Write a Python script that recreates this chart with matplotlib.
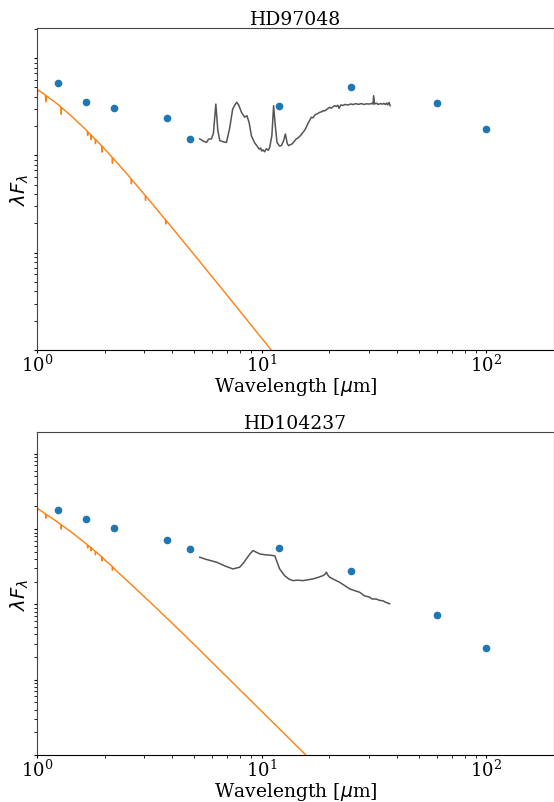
import numpy as np
import matplotlib
matplotlib.use("Agg")
import matplotlib.pyplot as plt

plt.rcParams["font.family"] = "serif"
plt.rcParams["font.serif"] = ["DejaVu Serif"]
plt.rcParams["mathtext.fontset"] = "dejavusans"

# photometry wavelengths (micron)
phot_wave = [1.235, 1.65, 2.2, 3.78, 4.8, 12.0, 25.0, 60.0, 100.0]

# HD97048 (arbitrary flux units)
hd97048_phot = [0.555, 0.354, 0.307, 0.244, 0.148, 0.324, 0.505, 0.346, 0.187]
hd97048_model_wave = [1.0, 1.004, 1.008, 1.06, 1.089, 1.094, 1.099, 1.122, 1.20, 1.259, 1.277, 1.282, 1.287,
                      1.413, 1.585, 1.672, 1.68, 1.688, 1.733, 1.74, 1.747, 1.778, 1.813, 1.82, 1.827,
                      1.938, 1.945, 1.952, 1.995, 2.158, 2.166, 2.174, 2.239, 2.512, 2.62, 2.63, 2.64,
                      2.818, 3.03, 3.04, 3.05, 3.162, 3.73, 3.74, 3.75, 3.981, 5.012, 6.31, 7.943,
                      10.0, 12.59, 19.95]
hd97048_model = [0.481, 0.42, 0.474, 0.436, 0.417, 0.355, 0.410, 0.396, 0.354, 0.324, 0.315, 0.265, 0.310,
                 0.257, 0.201, 0.178, 0.160, 0.174, 0.163, 0.146, 0.161, 0.154, 0.1475, 0.132, 0.145,
                 0.1256, 0.108, 0.1243, 0.117, 0.0959, 0.083, 0.0945, 0.0875, 0.0646, 0.0578, 0.051, 0.0565,
                 0.0473, 0.0388, 0.0345, 0.0382, 0.0345, 0.0218, 0.0197, 0.0215, 0.0182, 0.00951, 0.00494,
                 0.00256, 0.00132, 0.000684, 0.000182]
hd97048_irs_wave = [5.30, 5.50, 5.68, 5.80, 5.98, 6.10, 6.25, 6.38, 6.51, 6.75, 6.97, 7.20, 7.43, 7.60,
                    7.74, 7.90, 8.13, 8.40, 8.60, 8.80, 9.00, 9.30, 9.60, 9.75, 9.90, 10.0, 10.14, 10.3,
                    10.5, 10.7, 10.86, 11.10, 11.30, 11.50, 11.70, 12.0, 12.23, 12.50, 12.75, 13.0, 13.18,
                    13.7, 14.26, 14.5, 14.8, 15.0, 15.27, 15.5, 15.8, 16.1, 16.35, 16.63, 16.9, 17.3, 17.7,
                    18.11, 18.5, 18.8, 19.0, 19.5, 20.06, 20.4, 20.8, 21.1, 21.48, 21.8, 22.1, 22.5, 23.0,
                    23.5, 24.2, 25.0, 25.47, 26.2, 27.0, 27.8, 28.5, 29.3, 30.2, 31.0, 31.3, 31.5, 31.8, 32.5,
                    33.0, 33.8, 34.5, 35.0, 35.5, 36.0, 36.4, 36.9, 37.3]
hd97048_irs = [0.148, 0.140, 0.136, 0.147, 0.148, 0.170, 0.337, 0.180, 0.142, 0.138, 0.136, 0.190, 0.300, 0.330,
               0.352, 0.330, 0.277, 0.247, 0.256, 0.215, 0.159, 0.135, 0.122, 0.116, 0.119, 0.111, 0.114, 0.109,
               0.117, 0.113, 0.121, 0.160, 0.324, 0.200, 0.136, 0.125, 0.126, 0.140, 0.166, 0.132, 0.126,
               0.132, 0.148, 0.151, 0.158, 0.163, 0.173, 0.180, 0.195, 0.215, 0.228, 0.247, 0.243, 0.262, 0.268,
               0.277, 0.281, 0.289, 0.286, 0.298, 0.312, 0.306, 0.316, 0.325, 0.318, 0.328, 0.305, 0.330, 0.326,
               0.334, 0.330, 0.338, 0.333, 0.340, 0.335, 0.341, 0.334, 0.339, 0.337, 0.343, 0.336, 0.411, 0.338, 0.344,
               0.334, 0.341, 0.336, 0.343, 0.333, 0.345, 0.331, 0.350, 0.324]

# HD104237
hd104237_phot = [0.182, 0.136, 0.104, 0.0713, 0.0542, 0.0564, 0.0276, 0.00724, 0.00262]
hd104237_model_wave = [1.0, 1.004, 1.008, 1.06, 1.089, 1.094, 1.099, 1.122, 1.20, 1.259, 1.277, 1.282, 1.287,
                       1.413, 1.585, 1.672, 1.68, 1.688, 1.733, 1.74, 1.747, 1.778, 1.813, 1.82, 1.827,
                       1.938, 1.945, 1.952, 1.995, 2.158, 2.166, 2.174, 2.239, 2.512, 2.818, 3.162, 3.981,
                       5.012, 6.31, 7.943, 10.0, 12.59, 19.95]
hd104237_model = [0.190, 0.172, 0.187, 0.169, 0.160, 0.140, 0.157, 0.151, 0.1315, 0.119, 0.1151, 0.100, 0.1132,
                  0.0923, 0.0708, 0.0621, 0.056, 0.0608, 0.0572, 0.0515, 0.0565, 0.0535, 0.0509, 0.0455, 0.0503,
                  0.0430, 0.038, 0.0425, 0.0394, 0.0321, 0.0285, 0.0315, 0.0285, 0.0208, 0.0151, 0.01096, 0.00569,
                  0.00292, 0.00148, 0.00075, 0.00038, 0.000193, 0.0000495]
hd104237_irs_wave = [5.30, 5.60, 6.29, 6.90, 7.45, 7.98, 8.30, 8.55, 8.85, 9.15, 9.50, 9.80, 10.1, 10.49,
                     10.8, 11.22, 11.45, 11.66, 12.02, 12.3, 12.65, 13.2, 13.78, 14.5, 15.27, 16.0, 16.90,
                     17.8, 18.72, 19.1, 19.40, 19.7, 20.06, 21.0, 22.21, 23.4, 24.62, 26.0, 27.29, 28.7,
                     30.2, 31.0, 32.36, 33.5, 34.6, 35.8, 37.1]
hd104237_irs = [0.0424, 0.0400, 0.0364, 0.0322, 0.0296, 0.0312, 0.0355, 0.0403, 0.0465, 0.0519, 0.0490, 0.0469,
                0.0461, 0.0455, 0.0452, 0.0446, 0.0440, 0.0378, 0.0296, 0.0270, 0.0241, 0.0218, 0.0207, 0.0210,
                0.0207, 0.0212, 0.0218, 0.0228, 0.0241, 0.0250, 0.0268, 0.0245, 0.0230, 0.0214, 0.0197, 0.0178,
                0.0161, 0.0152, 0.0145, 0.0130, 0.0125, 0.0118, 0.0118, 0.0113, 0.0112, 0.0106, 0.0102]

stars = [
    ("HD97048", hd97048_model_wave, hd97048_model, hd97048_irs_wave, hd97048_irs, hd97048_phot,
     (1e-3, 2.04)),
    ("HD104237", hd104237_model_wave, hd104237_model, hd104237_irs_wave, hd104237_irs, hd104237_phot,
     (1e-4, 1.95)),
]

fig = plt.figure(figsize=(5.54, 8.03), dpi=100)
positions = [[0.0668, 0.5629, 0.9332, 0.4010], [0.0668, 0.0585, 0.9332, 0.4023]]

for pos, (name, mw, mf, iw, fl, ph, ylim) in zip(positions, stars):
    ax = fig.add_axes(pos)
    ax.plot(mw, mf, color="tab:orange", lw=1)
    ax.plot(iw, fl, color="#555555", lw=1.1)
    ax.plot(phot_wave, ph, "o", color="tab:blue", ms=4.5)
    ax.set_xscale("log")
    ax.set_yscale("log")
    ax.set_xlim(1, 200)
    ax.set_ylim(*ylim)
    ax.set_yticklabels([], minor=True)
    ax.set_yticklabels([])
    for side in ("left", "top"):
        ax.spines[side].set_color("#444444")
    ax.tick_params(axis="x", which="both", labelsize=13, length=2, pad=0.5)
    ax.tick_params(axis="y", which="both", length=2.5)
    ax.set_title(name, fontsize=13.5, pad=2)
    ax.set_xlabel(r"Wavelength [$\mu$m]", fontsize=13.5, labelpad=0)
    ax.set_ylabel(r"$\lambda F_\lambda$", fontsize=14, labelpad=-2)

fig.savefig("out.png", dpi=100)
